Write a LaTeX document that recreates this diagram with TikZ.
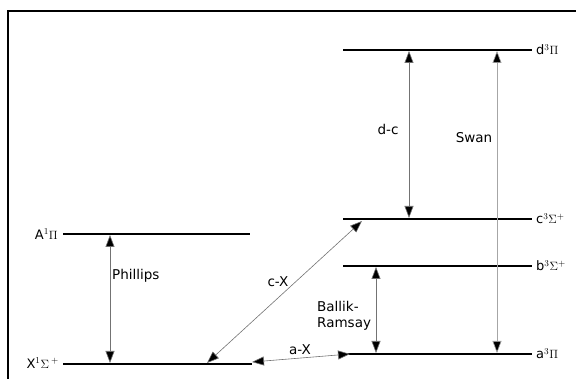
\documentclass[tikz,border=0pt]{standalone}
\usepackage{fontspec}
\setmainfont{DejaVu Sans}
\usetikzlibrary{arrows.meta}
\tikzset{
  level/.style={line width=1.6pt, black},
  trans/.style={line width=0.6pt, draw=black!55, {Triangle[length=12pt,width=9pt,fill=black]}-{Triangle[length=12pt,width=9pt,fill=black]}},
  lbl/.style={font=\fontsize{13.5}{16}\selectfont, inner sep=1pt},
  state/.style={font=\fontsize{13}{15}\selectfont, inner sep=1pt}
}
\begin{document}
\begin{tikzpicture}[x=1pt,y=-1pt]
\useasboundingbox (0,0) rectangle (576,379);
% frame
\draw[line width=1.3pt] (8,400) -- (8,11) -- (600,11);
% levels
\coordinate (dL) at (343,50);  \coordinate (dR) at (532,50);
\coordinate (cL) at (343,219); \coordinate (cR) at (532,219);
\coordinate (bL) at (343,266); \coordinate (bR) at (532,266);
\coordinate (aL) at (345,354); \coordinate (aR) at (532,354);
\coordinate (AL) at (63,234);  \coordinate (AR) at (250,234);
\coordinate (XL) at (63,364);  \coordinate (XR) at (252,364);
\draw[level] (dL) -- (dR);
\draw[level] (cL) -- (cR);
\draw[level] (bL) -- (bR);
\draw[level] (aL) -- (aR);
\draw[level] (AL) -- (AR);
\draw[level] (XL) -- (XR);
% state labels
\node[state, anchor=west] (dlab) at (535,50) {d$^3\Pi$};
\node[state, anchor=west] (clab) at (535,219) {c$^3\Sigma^+$};
\node[state, anchor=west] (blab) at (535,266) {b$^3\Sigma^+$};
\node[state, anchor=west] (alab) at (535,354) {a$^3\Pi$};
\node[state, anchor=east] (Alab) at (59,234) {A$^1\Pi$};
\node[state, anchor=east] (Xlab) at (60,363) {X$^1\Sigma\,^+$};
% transition endpoints
\coordinate (ph1) at (110,235); \coordinate (ph2) at (110,363);
\coordinate (dc1) at (409,51);  \coordinate (dc2) at (409,218);
\coordinate (sw1) at (497,51);  \coordinate (sw2) at (497,353);
\coordinate (br1) at (376,267); \coordinate (br2) at (376,353);
\coordinate (cx1) at (207,363); \coordinate (cx2) at (362,221);
\coordinate (ax1) at (252,362); \coordinate (ax2) at (350,354);
\draw[trans] (ph1) -- (ph2);
\draw[trans] (dc1) -- (dc2);
\draw[trans, draw=black!35] (sw1) -- (sw2);
\draw[trans] (br1) -- (br2);
\draw[trans] (cx1) -- (cx2);
\draw[trans] (ax1) -- (ax2);
% transition labels
\node[lbl, anchor=west] (phl) at (111,276) {Phillips};
\node[lbl] (dcl) at (388,129) {d-c};
\node[lbl] (swl) at (474,138) {Swan};
\node[lbl, anchor=west, align=left] (brl) at (316,316) {Ballik-\\Ramsay};
\node[lbl] (cxl) at (278,282) {c-X};
\node[lbl] (axl) at (300,350) {a-X};
\end{tikzpicture}
\end{document}
